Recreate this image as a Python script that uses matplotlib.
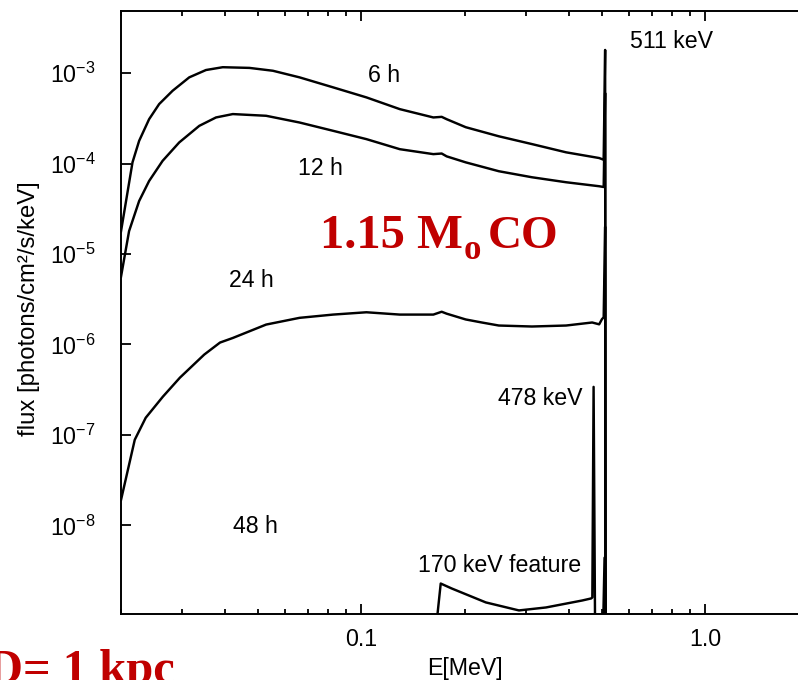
import matplotlib
matplotlib.use('Agg')
import matplotlib.pyplot as plt
from matplotlib.ticker import FixedLocator, FixedFormatter, NullLocator

plt.rcParams['font.family'] = ['Liberation Sans', 'DejaVu Sans']
plt.rcParams['mathtext.fontset'] = 'custom'
plt.rcParams['mathtext.rm'] = 'Liberation Sans'

# ---------------- data (E in MeV, flux in photons/cm2/s/keV) ----------------
E_6h = [0.0200, 0.0216, 0.02258, 0.02414, 0.02582, 0.02825, 0.03158, 0.03532, 0.03952,
        0.04724, 0.05528, 0.06607, 0.08269, 0.1034, 0.1293, 0.1618, 0.1711, 0.1769,
        0.2010, 0.2508, 0.3131, 0.3934, 0.4910, 0.5060, 0.5110, 0.5130]
F_6h = [1.78e-5, 1.03e-4, 1.78e-4, 3.09e-4, 4.54e-4, 6.37e-4, 8.96e-4, 1.08e-3, 1.16e-3,
        1.14e-3, 1.06e-3, 8.96e-4, 6.95e-4, 5.38e-4, 3.99e-4, 3.23e-4, 3.28e-4, 3.09e-4,
        2.52e-4, 2.00e-4, 1.64e-4, 1.33e-4, 1.15e-4, 1.10e-4, 1.8e-3, 1e-12]

E_12h = [0.0200, 0.02111, 0.02258, 0.02414, 0.02642, 0.02953, 0.03378, 0.03778, 0.04227,
         0.05284, 0.06607, 0.08269, 0.1034, 0.1293, 0.1618, 0.1711, 0.1769, 0.2010,
         0.2508, 0.3131, 0.3934, 0.4910, 0.5060, 0.5110, 0.5130]
F_12h = [5.6e-6, 1.79e-5, 3.85e-5, 6.41e-5, 1.07e-4, 1.71e-4, 2.61e-4, 3.23e-4, 3.52e-4,
         3.37e-4, 2.84e-4, 2.30e-4, 1.86e-4, 1.44e-4, 1.27e-4, 1.29e-4, 1.20e-4, 1.03e-4,
         8.22e-5, 7.05e-5, 6.21e-5, 5.61e-5, 5.5e-5, 6e-4, 1e-12]

E_24h = [0.0200, 0.02193, 0.0236, 0.02647, 0.02967, 0.03491, 0.0388, 0.04227, 0.05284,
         0.06607, 0.08269, 0.1034, 0.1293, 0.1618, 0.1711, 0.1769, 0.2010, 0.2238,
         0.2508, 0.3131, 0.3934, 0.4685, 0.4910, 0.5000, 0.5060, 0.5110, 0.5130]
F_24h = [1.91e-8, 8.85e-8, 1.55e-7, 2.65e-7, 4.30e-7, 7.73e-7, 1.05e-6, 1.18e-6, 1.66e-6,
         1.97e-6, 2.14e-6, 2.27e-6, 2.14e-6, 2.14e-6, 2.30e-6, 2.19e-6, 1.89e-6, 1.75e-6,
         1.62e-6, 1.58e-6, 1.62e-6, 1.75e-6, 1.67e-6, 1.9e-6, 2.0e-6, 2e-5, 1e-12]

E_48h = [0.1630, 0.1700, 0.1830, 0.2299, 0.2870, 0.3439, 0.4380, 0.4653, 0.4690,
         0.4730, 0.4780, 0.5030, 0.5090, 0.5140]
F_48h = [5e-10, 2.28e-9, 2.01e-9, 1.41e-9, 1.15e-9, 1.24e-9, 1.48e-9, 1.56e-9, 1.6e-9,
         3.4e-7, 5e-10, 5e-10, 4.4e-9, 5e-10]

x_major = [0.1, 1.0]
x_major_labels = ['0.1', '1.0']
x_minor = [0.02, 0.03, 0.04, 0.05, 0.06, 0.07, 0.08, 0.09,
           0.2, 0.3, 0.4, 0.5, 0.6, 0.7, 0.8, 0.9, 2.0]
y_major = [1e-8, 1e-7, 1e-6, 1e-5, 1e-4, 1e-3]
y_major_labels = [r'$\mathdefault{10^{-8}}$', r'$\mathdefault{10^{-7}}$',
                  r'$\mathdefault{10^{-6}}$', r'$\mathdefault{10^{-5}}$',
                  r'$\mathdefault{10^{-4}}$', r'$\mathdefault{10^{-3}}$']

# ---------------- figure ----------------
W, H = 798, 680
fig = plt.figure(figsize=(W / 100, H / 100), dpi=100)
ax = fig.add_axes([121 / W, 1 - 614 / H, 688 / W, 603 / H])

for E, F in [(E_6h, F_6h), (E_12h, F_12h), (E_24h, F_24h), (E_48h, F_48h)]:
    ax.plot(E, F, color='black', lw=1.75, solid_joinstyle='round')

ax.set_xscale('log')
ax.set_yscale('log')
ax.set_xlim(0.02, 2.0)
ax.set_ylim(1.05e-9, 4.85e-3)

ax.xaxis.set_major_locator(FixedLocator(x_major))
ax.xaxis.set_major_formatter(FixedFormatter(x_major_labels))
ax.xaxis.set_minor_locator(FixedLocator(x_minor))
ax.xaxis.set_minor_formatter(FixedFormatter([''] * len(x_minor)))
ax.yaxis.set_major_locator(FixedLocator(y_major))
ax.yaxis.set_major_formatter(FixedFormatter(y_major_labels))
ax.yaxis.set_minor_locator(NullLocator())

ax.tick_params(which='both', direction='in', top=True, right=True, width=1.3,
               labelsize=16.7, colors='black')
ax.tick_params(which='major', length=7)
ax.tick_params(which='minor', length=3.5)
ax.tick_params(axis='x', which='major', pad=10)
ax.tick_params(axis='y', which='major', pad=18)
for s in ax.spines.values():
    s.set_linewidth(1.4)

# annotations
fs = 16.7
ax.text(0.116, 7.95e-4, '6 h', ha='center', va='baseline', fontsize=fs)
ax.text(0.076, 7.45e-5, '12 h', ha='center', va='baseline', fontsize=fs)
ax.text(0.048, 4.30e-6, '24 h', ha='center', va='baseline', fontsize=fs)
ax.text(0.0493, 8.17e-9, '48 h', ha='center', va='baseline', fontsize=fs)
ax.text(0.438, 2.12e-7, '478 keV', ha='right', va='baseline', fontsize=fs)
ax.text(0.435, 3.02e-9, '170 keV feature', ha='right', va='baseline', fontsize=fs)
ax.text(0.798, 1.89e-3, '511 keV', ha='center', va='baseline', fontsize=fs)

red = '#c00000'
serif = dict(family='Liberation Serif', weight='bold', color=red)
renderer = fig.canvas.get_renderer()
t1 = fig.text(320 / W, 1 - 248 / H, '1.15 M', fontsize=35, ha='left', va='baseline', **serif)
bb1 = t1.get_window_extent(renderer=renderer)
t2 = fig.text((bb1.x1 + 1) / W, 1 - 259 / H, 'o', fontsize=25, ha='left', va='baseline', **serif)
bb2 = t2.get_window_extent(renderer=renderer)
fig.text((bb2.x1 + 7) / W, 1 - 248 / H, 'CO', fontsize=34, ha='left', va='baseline', **serif)

fig.text(-12 / W, 1 - 683 / H, 'D= 1 kpc', fontsize=35, ha='left', va='baseline', **serif)

fig.text(465 / W, 1 - 675 / H, 'E[MeV]', ha='center', va='baseline', fontsize=fs)
fig.text(29 / W, 1 - 309 / H, 'flux [photons/cm²/s/keV]', rotation=90,
         ha='center', va='center', fontsize=17.2)

fig.savefig('out.png', dpi=100)
